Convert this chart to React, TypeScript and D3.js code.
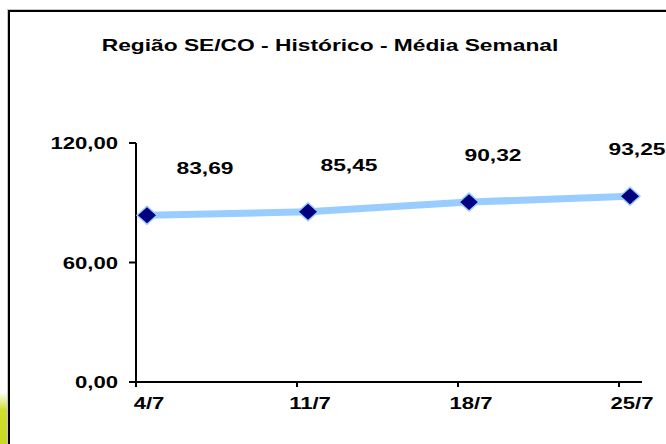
import React from "react";
import * as d3 from "d3";

const categories = ["4/7", "11/7", "18/7", "25/7"];
const values = [83.69, 85.45, 90.32, 93.25];
const valueLabels = ["83,69", "85,45", "90,32", "93,25"];
const yTicks = [0, 60, 120];
const yTickLabels = ["0,00", "60,00", "120,00"];
const title = "Região SE/CO - Histórico - Média Semanal";

const W = 666;
const H = 444;
const FONT = "'Liberation Sans', Arial, Helvetica, sans-serif";
const SX = 1.38;

function StretchText({ x, y, anchor, size, children }: any) {
  return (
    <text
      transform={`translate(${x},${y}) scale(${SX},1)`}
      textAnchor={anchor}
      fontFamily={FONT}
      fontWeight="bold"
      fontSize={size}
      fill="#000"
    >
      {children}
    </text>
  );
}

export default function App() {
  const x = d3.scalePoint<string>().domain(categories).range([147, 630]);
  const labelX = d3.scalePoint<string>().domain(categories).range([205, 637]);
  const y = d3.scaleLinear().domain([0, 120]).range([382, 143]);
  const axisX0 = 136;
  const axisX1 = 642;

  const line = d3
    .line<number>()
    .x((_, i) => x(categories[i]) as number)
    .y((d) => y(d));

  const diamond = (cx: number, cy: number) =>
    `M${cx - 10},${cy} L${cx},${cy - 9} L${cx + 10},${cy} L${cx},${cy + 9} Z`;

  return (
    <svg
      width={W}
      height={H}
      style={{ position: "absolute", left: 0, top: 0, background: "#fff" }}
    >
      <defs>
        <linearGradient id="yg" x1="0" y1="0" x2="0" y2="1">
          <stop offset="0" stopColor="#d4e03a" stopOpacity="0" />
          <stop offset="0.35" stopColor="#d0df2c" stopOpacity="1" />
          <stop offset="1" stopColor="#c9d81f" stopOpacity="1" />
        </linearGradient>
      </defs>
      <rect x={0} y={392} width={8} height={52} fill="url(#yg)" />
      <rect x={7.5} y={9.5} width={700} height={500} fill="none" stroke="#c8c8c8" strokeWidth={1} />
      <rect x={9} y={11} width={700} height={500} fill="none" stroke="#000" strokeWidth={2} />

      <StretchText x={330} y={51} anchor="middle" size={16.5}>
        {title}
      </StretchText>

      {/* y axis */}
      <line x1={axisX0} x2={axisX0} y1={y(120)} y2={y(0)} stroke="#000" strokeWidth={2} />
      {yTicks.map((t, i) => (
        <g key={t}>
          <line x1={axisX0 - 7} x2={axisX0} y1={y(t)} y2={y(t)} stroke="#000" strokeWidth={2} />
          <StretchText x={118} y={y(t) + 6} anchor="end" size={16}>
            {yTickLabels[i]}
          </StretchText>
        </g>
      ))}

      {/* x axis */}
      <line x1={axisX0} x2={axisX1} y1={y(0)} y2={y(0)} stroke="#000" strokeWidth={2} />
      {categories.map((c) => {
        const tx = (x(c) as number) - (x(categories[0]) as number) + axisX0;
        return (
          <g key={c}>
            <line x1={tx} x2={tx} y1={y(0)} y2={y(0) + 5} stroke="#000" strokeWidth={2} />
            <StretchText x={(x(c) as number) + 2} y={409} anchor="middle" size={16}>
              {c}
            </StretchText>
          </g>
        );
      })}

      {/* series line */}
      <path d={line(values) || ""} fill="none" stroke="#99ccff" strokeWidth={7} />
      {values.map((v, i) => (
        <path
          key={i}
          d={diamond(x(categories[i]) as number, y(v))}
          fill="#000080"
          stroke="#99ccff"
          strokeWidth={1.5}
        />
      ))}

      {/* data labels */}
      {values.map((v, i) => (
        <StretchText key={i} x={labelX(categories[i]) as number} y={y(v) - 41} anchor="middle" size={16.5}>
          {valueLabels[i]}
        </StretchText>
      ))}
    </svg>
  );
}
